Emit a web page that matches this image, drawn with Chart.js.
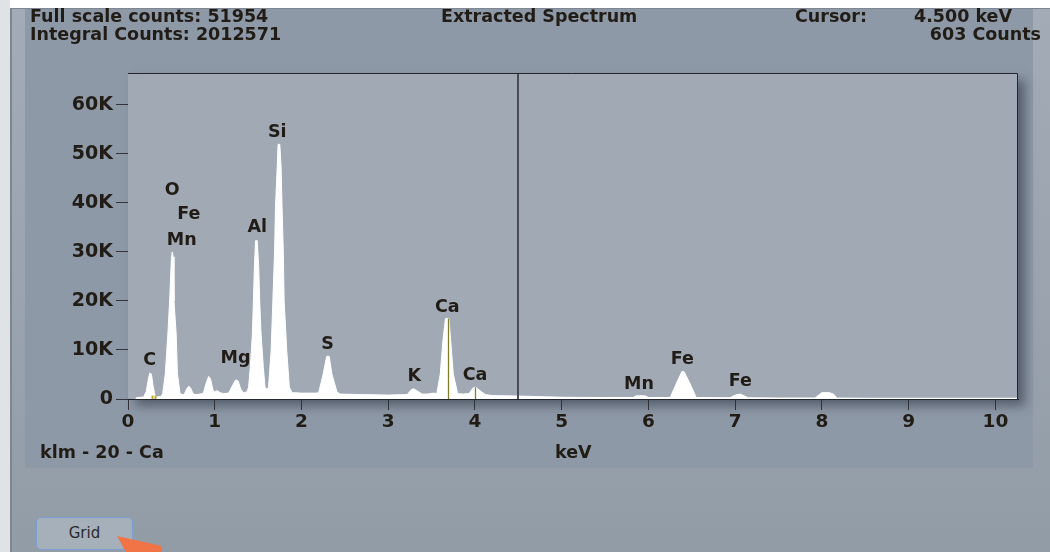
<!DOCTYPE html>
<html>
<head>
<meta charset="utf-8">
<title>Extracted Spectrum</title>
<script src="https://cdn.jsdelivr.net/npm/chart.js@4.4.1/dist/chart.umd.min.js"></script>
<style>
  html, body { margin: 0; padding: 0; }
  body { width: 1050px; height: 552px; position: relative; overflow: hidden;
         background: #ffffff; font-family: "DejaVu Sans", sans-serif; }
  #leftStrip { position: absolute; left: 0; top: 0; width: 10px; height: 552px; background: #dfe3e8; }
  #frame { position: absolute; left: 10px; top: 8px; right: 0; bottom: 0;
           border-left: 2px solid #7e8791; border-top: 1px solid #7e8791;
           background: linear-gradient(#a3acb6, #929ca7); }
  #panel { position: absolute; left: 25px; top: 9px; width: 1008px; height: 459px; background: #8e99a7; }
  .hdr { position: absolute; font-weight: bold; font-size: 17.5px; color: #221c16; white-space: nowrap; line-height: 20px; }
  #chartCanvas { position: absolute; left: 0; top: 0; }
  #gridBtn { position: absolute; left: 36px; top: 517px; width: 97px; height: 33px; box-sizing: border-box;
             border: 1px solid #7c9fcf; border-radius: 5px; background: #a6b0bb;
             font-family: "DejaVu Sans", sans-serif; font-size: 15px; color: #2a2a2a;
             text-align: center; line-height: 31px; }
  #arrow { position: absolute; left: 0; top: 0; }
</style>
</head>
<body>
<div id="leftStrip"></div>
<div id="frame"></div>
<div id="panel"></div>
<canvas id="chartCanvas" width="1050" height="552"></canvas>
<div class="hdr" style="left:30px; top:6px;">Full scale counts: 51954</div>
<div class="hdr" style="left:30px; top:24px;">Integral Counts: 2012571</div>
<div class="hdr" style="left:441px; top:6px;">Extracted Spectrum</div>
<div class="hdr" style="left:795px; top:6px;">Cursor:</div>
<div class="hdr" style="right:38px; top:6px;">4.500 keV</div>
<div class="hdr" style="right:9px; top:24px;">603 Counts</div>
<div class="hdr" style="left:40px; top:442px;">klm - 20 - Ca</div>
<div class="hdr" style="left:555px; top:442px;">keV</div>
<div id="gridBtn">Grid</div>
<svg id="arrow" width="1050" height="552"><polygon points="117,536 162,546 162,552 126,552" fill="#f07446"/></svg>
<script>
// Spectrum channels: energy (keV) and counts
const spectrumKeV = [
  0.09, 0.10, 0.18, 0.21, 0.23, 0.25, 0.27, 0.29, 0.31, 0.33, 0.38,
  0.40, 0.43, 0.46, 0.48, 0.50, 0.51, 0.52, 0.53, 0.555, 0.57, 0.60, 0.63,
  0.65, 0.68, 0.70, 0.72, 0.75, 0.78, 0.83,
  0.87, 0.90, 0.93, 0.95, 0.98, 1.00, 1.03, 1.06, 1.10,
  1.16, 1.20, 1.24, 1.27, 1.30, 1.33, 1.37,
  1.39, 1.41, 1.434, 1.446, 1.457, 1.47, 1.49, 1.507, 1.518, 1.534, 1.56, 1.58, 1.60,
  1.62, 1.65, 1.67, 1.69, 1.70, 1.72, 1.73, 1.75, 1.765, 1.776, 1.79, 1.80, 1.83, 1.86, 1.89,
  2.00, 2.18, 2.20, 2.25, 2.29, 2.32, 2.35, 2.41, 2.45,
  2.70, 3.00, 3.20, 3.22, 3.26, 3.29, 3.33, 3.39, 3.45, 3.52,
  3.56, 3.60, 3.63, 3.66, 3.70, 3.72, 3.75, 3.80, 3.86,
  3.93, 3.98, 4.01, 4.05, 4.12, 4.20, 4.49, 4.50,
  4.80, 5.05, 5.50, 5.82, 5.86, 5.96, 6.00,
  6.25, 6.32, 6.385, 6.41, 6.48, 6.55,
  6.94, 7.00, 7.06, 7.15, 7.50,
  7.92, 7.97, 8.00, 8.09, 8.14, 8.17, 8.50, 10.26
];
const spectrumCounts = [
  0, 300, 400, 1500, 3600, 5300, 5100, 2600, 800, 400, 500,
  1100, 5200, 13400, 20000, 28500, 30000, 29000, 20000, 13400, 5200, 1100, 900,
  1000, 2200, 2600, 2300, 1100, 900, 1000,
  1200, 3200, 4600, 4200, 1800, 1500, 1700, 1300, 1100,
  1200, 2600, 3900, 3700, 2000, 1300, 1400,
  2400, 6500, 13300, 20100, 26900, 32300, 32300, 26900, 20100, 13300, 6500, 2400, 2000,
  2400, 9900, 20100, 30300, 39100, 47300, 51954, 51954, 47300, 39100, 30300, 20100, 9900, 2400, 1300,
  1200, 1200, 1400, 5100, 8700, 8700, 5100, 1400, 1000,
  900, 800, 900, 900, 1800, 2100, 1700, 1000, 1000, 1200,
  1100, 5100, 11900, 16400, 16400, 11900, 5100, 1100, 1000,
  1100, 2300, 2400, 1800, 900, 700, 600, 603,
  450, 350, 300, 300, 650, 650, 300,
  300, 3100, 5600, 5600, 3100, 300,
  250, 800, 1000, 250, 200,
  200, 900, 1300, 1300, 900, 200, 150, 150
];

// Axis ticks
const xTickValues = [0, 1, 2, 3, 4, 5, 6, 7, 8, 9, 10];
const yTickValues = [0, 10000, 20000, 30000, 40000, 50000, 60000];
const yTickLabels = ['0', '10K', '20K', '30K', '40K', '50K', '60K'];

// Element identification labels (label anchor in keV / counts)
const peakLabels = ['C', 'O', 'Fe', 'Mn', 'Mg', 'Al', 'Si', 'S', 'K', 'Ca', 'Ca', 'Mn', 'Fe', 'Fe'];
const peakLabelKeV = [0.25, 0.51, 0.70, 0.62, 1.24, 1.49, 1.72, 2.30, 3.30, 3.68, 4.00, 5.89, 6.39, 7.06];
const peakLabelCounts = [7900, 42600, 37700, 32400, 8300, 35000, 54300, 11100, 4600, 18700, 4800, 2900, 8100, 3500];

// KLM marker lines (keV / height in counts)
const markerKeV = [0.28, 0.31, 3.685, 4.005];
const markerCounts = [700, 700, 16400, 2400];

// Cursor position
const cursorKeV = 4.5;

const FONT = '"DejaVu Sans", sans-serif';

const spectrumPlugin = {
  id: 'spectrumDecor',
  beforeDatasetsDraw(chart) {
    const { ctx, chartArea: a } = chart;
    ctx.save();
    ctx.shadowColor = 'rgba(40,48,60,0.55)';
    ctx.shadowBlur = 10;
    ctx.shadowOffsetX = 7;
    ctx.shadowOffsetY = 7;
    ctx.fillStyle = '#a1a9b5';
    ctx.fillRect(a.left, a.top, a.right - a.left, a.bottom - a.top);
    ctx.restore();
  },
  afterDatasetsDraw(chart) {
    const { ctx, chartArea: a, scales } = chart;
    const xs = scales.x, ys = scales.y;
    ctx.save();
    // KLM markers
    markerKeV.forEach((k, i) => {
      const x = Math.round(xs.getPixelForValue(k)) + 0.5;
      ctx.strokeStyle = i < 2 ? '#b8ad2c' : '#7f7d2a';
      ctx.lineWidth = i < 2 ? 2 : 1.3;
      ctx.beginPath();
      ctx.moveTo(x, ys.getPixelForValue(0));
      ctx.lineTo(x, ys.getPixelForValue(markerCounts[i]));
      ctx.stroke();
    });
    // cursor line
    const cx = Math.round(xs.getPixelForValue(cursorKeV));
    ctx.strokeStyle = '#4c4b55';
    ctx.lineWidth = 2;
    ctx.beginPath();
    ctx.moveTo(cx, a.top);
    ctx.lineTo(cx, a.bottom);
    ctx.stroke();
    // top and right frame lines
    ctx.strokeStyle = '#26262a';
    ctx.lineWidth = 1;
    ctx.beginPath();
    ctx.moveTo(a.left, a.top + 0.5);
    ctx.lineTo(a.right - 0.5, a.top + 0.5);
    ctx.lineTo(a.right - 0.5, a.bottom);
    ctx.stroke();
    // element labels
    ctx.font = 'bold 17.5px ' + FONT;
    ctx.fillStyle = '#221c16';
    ctx.textAlign = 'center';
    ctx.textBaseline = 'middle';
    peakLabels.forEach((t, i) => {
      ctx.fillText(t, xs.getPixelForValue(peakLabelKeV[i]), ys.getPixelForValue(peakLabelCounts[i]));
    });
    ctx.restore();
  }
};

new Chart(document.getElementById('chartCanvas'), {
  type: 'line',
  data: {
    datasets: [{
      data: spectrumKeV.map((k, i) => ({ x: k, y: spectrumCounts[i] })),
      borderColor: '#ffffff',
      backgroundColor: '#ffffff',
      borderWidth: 1,
      fill: 'origin',
      pointRadius: 0,
      tension: 0
    }]
  },
  options: {
    responsive: false,
    animation: false,
    devicePixelRatio: 1,
    layout: { padding: { left: 0, top: 73, right: 32, bottom: 0 } },
    plugins: { legend: { display: false }, tooltip: { enabled: false } },
    scales: {
      x: {
        type: 'linear',
        min: 0,
        max: 10.26,
        afterBuildTicks(s) { s.ticks = xTickValues.map(v => ({ value: v })); },
        afterFit(s) { s.height = 153; },
        ticks: { color: '#221c16', font: { family: FONT, size: 18.5, weight: 'bold' }, padding: 1, maxRotation: 0,
                 callback: (v) => String(v) },
        grid: { drawOnChartArea: false, drawTicks: true, tickLength: 11, color: '#34343a', tickWidth: 1 },
        border: { display: true, color: '#1f1f24', width: 1 }
      },
      y: {
        min: 0,
        max: 66500,
        afterBuildTicks(s) { s.ticks = yTickValues.map(v => ({ value: v })); },
        afterFit(s) { s.width = 128; },
        ticks: { color: '#221c16', font: { family: FONT, size: 19, weight: 'bold' }, padding: 3,
                 callback: (v, i) => yTickLabels[i] },
        grid: { drawOnChartArea: false, drawTicks: true, tickLength: 12, color: '#34343a', tickWidth: 1 },
        border: { display: true, color: '#1f1f24', width: 1 }
      }
    }
  },
  plugins: [spectrumPlugin]
});
</script>
</body>
</html>
